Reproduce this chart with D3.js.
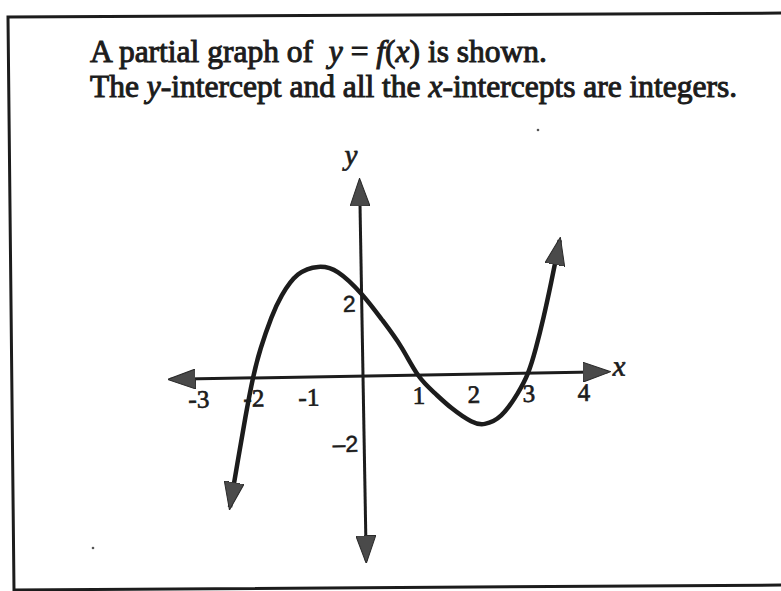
<!DOCTYPE html>
<html>
<head>
<meta charset="utf-8">
<script src="https://cdn.jsdelivr.net/npm/d3@7"></script>
<style>
  html, body { margin: 0; padding: 0; background: #ffffff; overflow: hidden; }
  svg { display: block; }
  svg text { white-space: pre; }
</style>
</head>
<body>
<div id="chart"></div>
<script>
// title, split in runs: [text, italic]
var titleLine1 = [["A partial graph of  ", false], ["y", true], [" = ", false], ["f", true],
                  ["(", false], ["x", true], [")", false], [" is shown.", false]];
var titleLine2 = [["The ", false], ["y", true], ["-intercept and all the ", false], ["x", true],
                  ["-intercepts are integers.", false]];

var xTicks = [-3, -2, -1, 1, 2, 3, 4];
var xTickLabels = ["-3", "-2", "-1", "1", "2", "3", "4"];
var yTicks = [2, -2];
var yTickLabels = ["2", "\u20132"];

// how far the arrows of the axes reach
var xAxisEnds = [-3.5, 4.45];
var yAxisEnds = [-4.5, 4.75];

// points, from the lower left arrow to the upper right arrow
var curveX = [-2.46, -2.3, -2.15, -2.0, -1.85, -1.65, -1.45, -1.15, -0.78, -0.42, 0.0, 0.36, 0.7,
              1.0, 1.3, 1.6, 1.95, 2.2, 2.5, 2.8, 3.0, 3.15, 3.3, 3.45, 3.62];
var curveY = [-3.14, -2.0, -0.95, 0.0, 0.72, 1.45, 2.0, 2.5, 2.68, 2.54, 2.0, 1.37, 0.7,
              0.0, -0.45, -0.82, -1.15, -1.22, -1.02, -0.5, 0.0, 0.6, 1.35, 2.2, 3.23];

function init () {

    var w = 781;
    var h = 591;
    var ink = "#1c1c1c";

    var svg = d3.select("#chart")
                .append("svg")
                .attr("width", w)
                .attr("height", h);

    // frame of the scanned box (no right side, it runs off the page)
    svg.append("path")
        .attr("d", "M795,13 L8,17 L14,590 L795,585")
        .attr("fill", "none")
        .attr("stroke", ink)
        .attr("stroke-width", 3);

    // two specks of the scan
    svg.selectAll("circle.speck")
        .data([[538, 130], [93, 548]])
        .enter()
        .append("circle")
        .attr("class", "speck")
        .attr("cx", function(d) { return d[0]; })
        .attr("cy", function(d) { return d[1]; })
        .attr("r", 1.3)
        .attr("fill", "#555");

    // title
    [titleLine1, titleLine2].forEach(function(line, i) {
        var t = svg.append("text")
                .attr("x", 90)
                .attr("y", 62 + i * 35)
                .style("font-family", "'Liberation Serif', serif")
                .style("font-size", "31.5px")
                .attr("fill", ink)
                .attr("stroke", ink)
                .attr("stroke-width", 1);
        t.selectAll("tspan")
            .data(line)
            .enter()
            .append("tspan")
            .style("font-style", function(d) { return d[1] ? "italic" : "normal"; })
            .text(function(d) { return d[0]; });
    });

    var xScale = d3.scaleLinear()
                .domain([-3, 4])
                .range([198, 583]);
    var yScale = d3.scaleLinear()
                .domain([-2, 2])
                .range([458, 294]);

    var defs = svg.append("defs");
    defs.append("marker")
        .attr("id", "arrow")
        .attr("viewBox", "0 -10 28 20")
        .attr("markerUnits", "userSpaceOnUse")
        .attr("markerWidth", 28)
        .attr("markerHeight", 20)
        .attr("refX", 25)
        .attr("refY", 0)
        .attr("orient", "auto-start-reverse")
        .append("path")
        .attr("d", "M0,-10L28,0L0,10Z")
        .attr("fill", "#4a4a4a")
        .attr("stroke", "#2a2a2a")
        .attr("stroke-width", 1);

    // the scan is turned a little, so is the graph
    var g = svg.append("g")
            .attr("transform", "rotate(-1," + xScale(0) + "," + yScale(0) + ")");

    g.append("line")
        .attr("x1", xScale(xAxisEnds[0]))
        .attr("x2", xScale(xAxisEnds[1]))
        .attr("y1", yScale(0))
        .attr("y2", yScale(0))
        .attr("stroke", ink)
        .attr("stroke-width", 3)
        .attr("marker-start", "url(#arrow)")
        .attr("marker-end", "url(#arrow)");

    g.append("line")
        .attr("x1", xScale(0))
        .attr("x2", xScale(0))
        .attr("y1", yScale(yAxisEnds[0]))
        .attr("y2", yScale(yAxisEnds[1]))
        .attr("stroke", ink)
        .attr("stroke-width", 3)
        .attr("marker-start", "url(#arrow)")
        .attr("marker-end", "url(#arrow)");

    var xAxis = d3.axisBottom(xScale)
                .tickValues(xTicks)
                .tickFormat(function(d, i) { return xTickLabels[i]; })
                .tickSize(0)
                .tickPadding(11);

    var xg = g.append("g")
            .attr("transform", "translate(0," + yScale(0) + ")")
            .call(xAxis);
    xg.select(".domain").remove();
    xg.attr("font-family", "'Liberation Serif', serif");
    xg.selectAll("text")
        .style("font-family", "'Liberation Serif', serif")
        .style("font-size", "25px")
        .attr("fill", ink)
        .attr("stroke", ink)
        .attr("stroke-width", 0.7);

    var yAxis = d3.axisLeft(yScale)
                .tickValues(yTicks)
                .tickFormat(function(d, i) { return yTickLabels[i]; })
                .tickSize(0)
                .tickPadding(6);

    var yg = g.append("g")
            .attr("transform", "translate(" + xScale(0) + ",0)")
            .call(yAxis);
    yg.select(".domain").remove();
    yg.selectAll("text")
        .attr("dy", function(d) { return d > 0 ? "0.75em" : "-0.3em"; })
        .style("font-family", "'Liberation Sans', sans-serif")
        .style("font-size", "23px")
        .attr("fill", ink)
        .attr("stroke", ink)
        .attr("stroke-width", 0.5);

    g.append("text")
        .attr("x", xScale(0) - 8)
        .attr("y", yScale(yAxisEnds[1]) - 17)
        .attr("text-anchor", "middle")
        .style("font-family", "'Liberation Serif', serif")
        .style("font-style", "italic")
        .style("font-size", "29px")
        .attr("fill", ink)
        .attr("stroke", ink)
        .attr("stroke-width", 0.7)
        .text("y");

    g.append("text")
        .attr("x", xScale(xAxisEnds[1]) + 5)
        .attr("y", yScale(0) + 4)
        .style("font-family", "'Liberation Serif', serif")
        .style("font-style", "italic")
        .style("font-size", "29px")
        .attr("fill", ink)
        .attr("stroke", ink)
        .attr("stroke-width", 0.7)
        .text("x");

    var pts = d3.zip(curveX, curveY);
    var line = d3.line()
                .x(function(d) { return xScale(d[0]); })
                .y(function(d) { return yScale(d[1]); })
                .curve(d3.curveNatural);

    g.append("path")
        .datum(pts)
        .attr("d", line)
        .attr("fill", "none")
        .attr("stroke", ink)
        .attr("stroke-width", 4.5)
        .attr("marker-start", "url(#arrow)")
        .attr("marker-end", "url(#arrow)");

}
window.onload = init;
</script>
</body>
</html>
